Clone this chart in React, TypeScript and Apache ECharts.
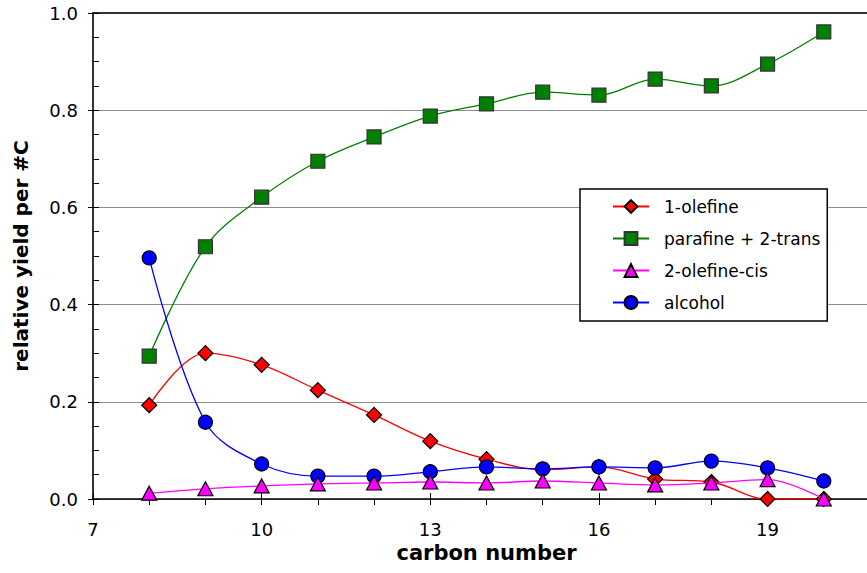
import React, { useEffect, useRef } from "react";
import * as echarts from "echarts";

const carbonNumbers = [8, 9, 10, 11, 12, 13, 14, 15, 16, 17, 18, 19, 20];
const olefine1 = [0.193, 0.300, 0.276, 0.224, 0.173, 0.119, 0.082, 0.060, 0.066, 0.041, 0.035, 0.0, 0.0];
const parafine2trans = [0.294, 0.519, 0.621, 0.695, 0.745, 0.788, 0.813, 0.837, 0.831, 0.864, 0.850, 0.895, 0.961];
const olefine2cis = [0.012, 0.021, 0.027, 0.031, 0.033, 0.035, 0.033, 0.037, 0.033, 0.029, 0.033, 0.040, 0.0];
const alcohol = [0.496, 0.158, 0.072, 0.047, 0.047, 0.056, 0.066, 0.062, 0.066, 0.064, 0.078, 0.064, 0.037];

const seriesNames = ["1-olefine", "parafine + 2-trans", "2-olefine-cis", "alcohol"];

const X_MIN = 7;
const X_MAX = 21;

const FONT = "DejaVu Sans";

function pairs(values: number[]) {
  return carbonNumbers.map((c, i) => [c, values[i]]);
}

export default function App() {
  const ref = useRef<HTMLDivElement>(null);

  useEffect(() => {
    if (!ref.current) return;
    const chart = echarts.init(ref.current, null, { renderer: "svg" });

    const mk = (
      name: string,
      values: number[],
      color: string,
      symbol: string,
      size: number | number[],
      border: string,
      z: number
    ) => ({
      name,
      type: "line",
      data: pairs(values),
      smooth: 0.35,
      symbol,
      symbolSize: size,
      z,
      lineStyle: { color, width: 1.3 },
      itemStyle: { color, borderColor: border, borderWidth: 1.2 },
      emphasis: { disabled: true },
    });

    const plainX = (extra: any) => ({
      type: "value",
      min: X_MIN,
      max: X_MAX,
      axisLine: { show: false, onZero: false },
      axisLabel: { show: false },
      splitLine: { show: false },
      ...extra,
    });

    chart.setOption({
      animation: false,
      backgroundColor: "#ffffff",
      textStyle: { fontFamily: FONT },
      grid: {
        left: 93,
        top: 13,
        right: -13,
        bottom: 74,
        containLabel: false,
        outerBoundsMode: "none",
      },
      legend: {
        orient: "vertical",
        left: 580,
        top: 189,
        data: seriesNames,
        backgroundColor: "#ffffff",
        borderColor: "#000000",
        borderWidth: 1.5,
        borderRadius: 0,
        padding: [9, 7, 10, 32],
        itemWidth: 36,
        itemHeight: 16,
        itemGap: 15,
        selectedMode: false,
        textStyle: { fontFamily: FONT, fontSize: 17, color: "#000", padding: [0, 0, 0, 10] },
      },
      xAxis: [
        {
          type: "value",
          position: "bottom",
          min: X_MIN,
          max: X_MAX,
          interval: 3,
          name: "carbon number",
          nameLocation: "middle",
          nameGap: 42,
          nameTextStyle: { fontFamily: FONT, fontSize: 21, fontWeight: "bold", color: "#000" },
          axisLine: { show: true, onZero: false, lineStyle: { color: "#000", width: 1.6 } },
          axisTick: { show: true, inside: false, length: 6, lineStyle: { color: "#000", width: 1 } },
          axisLabel: {
            fontFamily: FONT,
            fontSize: 18,
            color: "#000",
            margin: 21,
            showMaxLabel: false,
          },
          splitLine: { show: false },
        },
        plainX({
          position: "bottom",
          interval: 3,
          axisTick: { show: true, inside: true, length: 6, lineStyle: { color: "#000", width: 1 } },
        }),
        plainX({
          position: "bottom",
          interval: 1,
          axisTick: { show: true, inside: false, length: 6, lineStyle: { color: "#000", width: 1 } },
        }),
        plainX({
          position: "top",
          interval: 3,
          axisLine: { show: true, onZero: false, lineStyle: { color: "#333", width: 2 } },
          axisTick: { show: false },
        }),
      ],
      yAxis: [
        {
          type: "value",
          position: "left",
          min: 0,
          max: 1,
          interval: 0.2,
          name: "relative yield per #C",
          nameLocation: "middle",
          nameGap: 62,
          nameTextStyle: { fontFamily: FONT, fontSize: 20, fontWeight: "bold", color: "#000" },
          axisLine: { show: true, onZero: false, lineStyle: { color: "#000", width: 1.6 } },
          axisTick: { show: true, inside: true, length: 6, lineStyle: { color: "#000", width: 1 } },
          minorTick: { show: true, splitNumber: 4, length: 6, lineStyle: { color: "#000", width: 1 } },
          axisLabel: {
            fontFamily: FONT,
            fontSize: 18,
            color: "#000",
            margin: 15,
            formatter: (v: number) => v.toFixed(1),
          },
          splitLine: { show: true, lineStyle: { color: "#8c8c8c", width: 1 } },
        },
        {
          type: "value",
          position: "left",
          min: 0,
          max: 1,
          interval: 0.2,
          axisLine: { show: false, onZero: false },
          axisTick: { show: true, inside: false, length: 5, lineStyle: { color: "#000", width: 1 } },
          axisLabel: { show: false },
          splitLine: { show: false },
        },
      ],
      series: [
        mk(seriesNames[0], olefine1, "#ff0000", "diamond", 15, "#000000", 2),
        mk(seriesNames[1], parafine2trans, "#008000", "rect", 14, "#333333", 2),
        mk(seriesNames[2], olefine2cis, "#ff00ff", "triangle", [15, 14], "#000000", 4),
        mk(seriesNames[3], alcohol, "#0000ff", "circle", 14, "#000000", 3),
      ],
    });

    return () => chart.dispose();
  }, []);

  return (
    <div
      ref={ref}
      style={{ position: "absolute", left: 0, top: 0, width: 867, height: 573, overflow: "hidden" }}
    />
  );
}
